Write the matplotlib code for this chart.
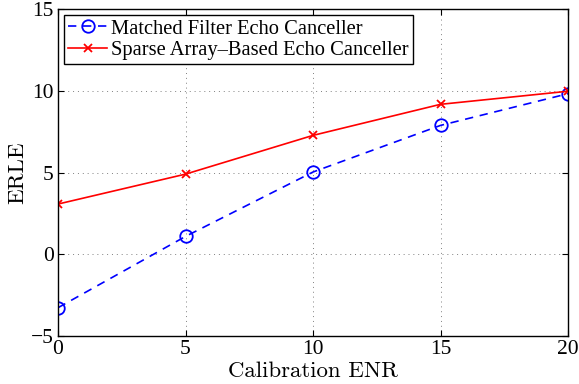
import matplotlib
matplotlib.use("Agg")
import matplotlib.pyplot as plt

enr = [0, 5, 10, 15, 20]
matched = [-3.27, 1.09, 5.03, 7.88, 9.82]
sparse = [3.07, 4.9, 7.27, 9.17, 9.97]
xticks = [0, 5, 10, 15, 20]
yticks = [-5, 0, 5, 10, 15]

plt.rcParams['font.family'] = ['cmr10', 'DejaVu Serif']
plt.rcParams['axes.formatter.use_mathtext'] = True
plt.rcParams['mathtext.fontset'] = 'cm'

fig = plt.figure(figsize=(5.79, 3.84), dpi=100)
ax = fig.add_axes([58/579, 1-336/384, (568-58)/579, (336-9)/384])

ax.plot(enr, matched, '--', color='blue', marker='o', markersize=9, markerfacecolor='none',
        markeredgewidth=1.3, linewidth=1.2, dashes=(5, 4), label='Matched Filter Echo Canceller')
ax.plot(enr, sparse, '-', color='red', marker='x', markersize=6, markeredgewidth=1.3,
        linewidth=1.2, label='Sparse Array\u2013Based Echo Canceller')

ax.set_xlim(0, 20)
ax.set_ylim(-5, 15)
ax.set_xticks(xticks)
ax.set_yticks(yticks)
lab = lambda v: str(v) if v >= 0 else '\u2212' + str(-v)
ax.set_xticklabels([lab(v) for v in xticks], fontsize=15.5, family=['Liberation Serif'])
ax.set_yticklabels([lab(v) for v in yticks], fontsize=15.5, family=['Liberation Serif'])
ax.grid(True, linestyle=(0, (1, 4)), color='gray', linewidth=0.7)
ax.tick_params(axis='x', direction='in', top=True, length=4, width=0.8, pad=3)
ax.tick_params(axis='y', direction='in', right=True, length=4, width=0.8, pad=3)
for s in ax.spines.values():
    s.set_linewidth(1.0)
ax.set_xlabel('Calibration ENR', fontsize=16.5, labelpad=2)
ax.set_ylabel('ERLE', fontsize=16.5, labelpad=3)

leg = ax.legend(loc='upper left', prop={'family': 'Liberation Serif', 'size': 14.8},
                fancybox=False, framealpha=1, edgecolor='black', borderpad=0.2,
                handlelength=1.9, handletextpad=0.2, labelspacing=0.1,
                borderaxespad=0.3)
leg.get_frame().set_linewidth(1.0)

fig.savefig('out.png', dpi=100)
